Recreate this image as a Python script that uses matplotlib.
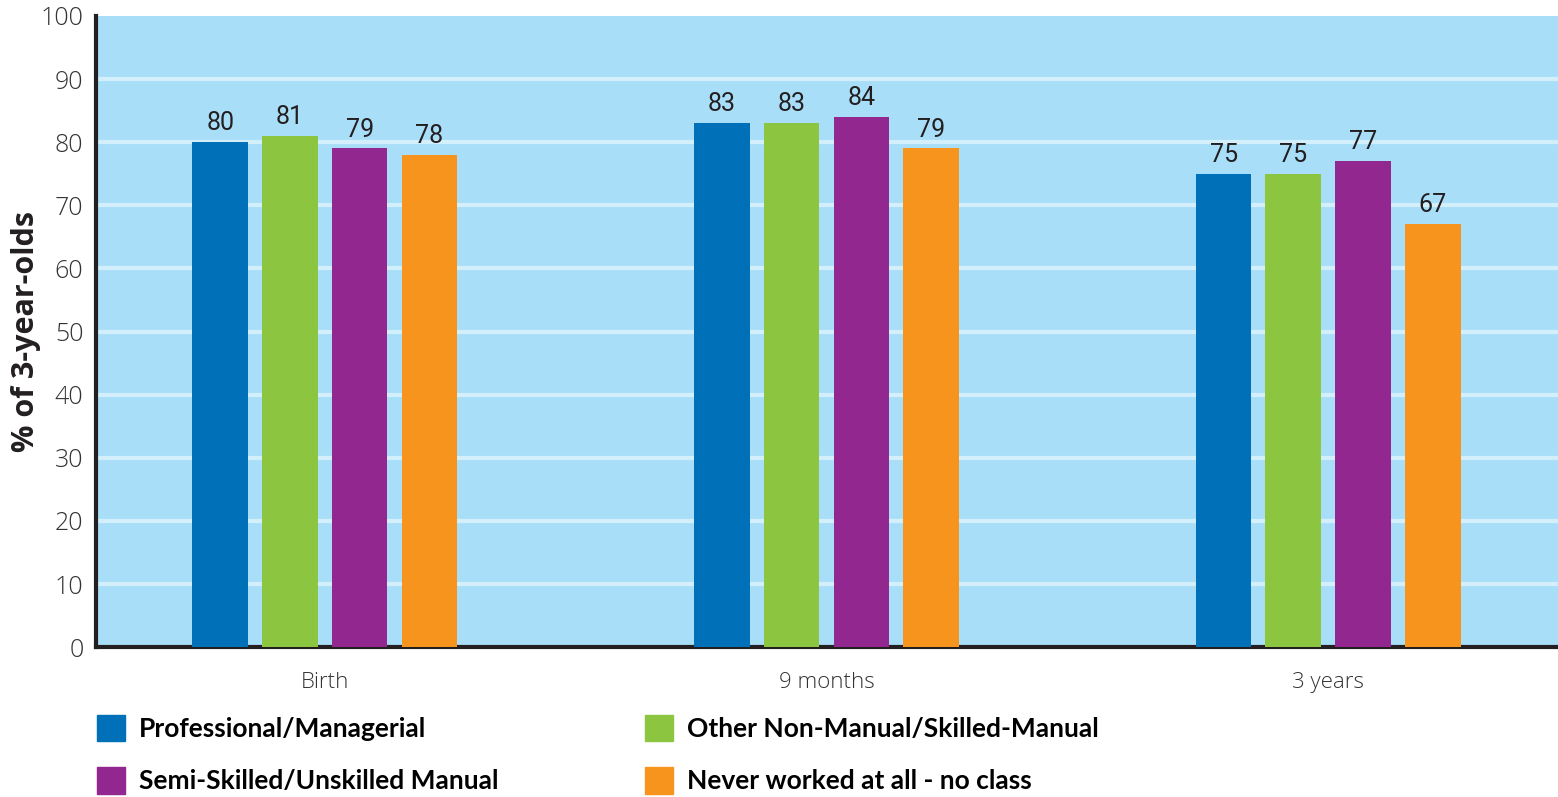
import numpy as np
import matplotlib.pyplot as plt
from matplotlib.patches import Patch

stages = ["Birth", "9 months", "3 years"]
groups = ["Professional/Managerial", "Other Non-Manual/Skilled-Manual",
          "Semi-Skilled/Unskilled Manual", "Never worked at all - no class"]
professional = [80, 83, 75]
other_non_manual = [81, 83, 75]
semi_skilled = [79, 84, 77]
never_worked = [78, 79, 67]
colours = ["#0070b9", "#8cc540", "#92278f", "#f7941e"]

series = [professional, other_non_manual, semi_skilled, never_worked]

fig = plt.figure(figsize=(15.58, 7.97), dpi=100)
ax = fig.add_axes([0.0616, 0.188, 0.9384, 0.792])
ax.set_facecolor("#a9def8")

x = np.arange(len(stages))
width = 0.111
step = 0.139

for i, (vals, col) in enumerate(zip(series, colours)):
    pos = x + (i - 1.5) * step
    bars = ax.bar(pos, vals, width, color=col, zorder=3)
    for b, v in zip(bars, vals):
        ax.annotate(str(v), (b.get_x() + b.get_width() / 2, v),
                    xytext=(0, 5), textcoords="offset points",
                    ha="center", va="bottom", fontsize=18,
                    family="Roboto", color="#231f20", zorder=4)

ax.set_xlim(-0.456, 2.458)
ax.set_ylim(0, 100)
ax.set_yticks(range(0, 101, 10))
ax.set_xticks(x)
ax.set_xticklabels(stages)
for y in range(10, 100, 10):
    ax.axhline(y, color="#d4effc", lw=3, zorder=1)

ax.tick_params(axis="y", length=0, pad=9, labelsize=18, labelcolor="#333333")
ax.tick_params(axis="x", length=0, pad=18, labelsize=16, labelcolor="#333333")
for lab in ax.get_yticklabels() + ax.get_xticklabels():
    lab.set_family("Open Sans")
    lab.set_fontweight("light")

for s in ["top", "right"]:
    ax.spines[s].set_visible(False)
for s in ["left", "bottom"]:
    ax.spines[s].set_linewidth(3)
    ax.spines[s].set_color("#231f20")

ax.set_ylabel("% of 3-year-olds", fontsize=22, fontweight="bold",
              family="Open Sans", color="#231f20", va="center")
ax.yaxis.set_label_coords(-0.048, 0.5)

# legend: two columns, filled top-down
handles = [Patch(color=c) for c in colours]
order = [0, 2, 1, 3]
fig.legend([handles[i] for i in order], [groups[i] for i in order],
           ncol=2, loc="upper left", bbox_to_anchor=(0.047, 0.133),
           frameon=False, handlelength=1.05, handleheight=1.15,
           handletextpad=0.55, columnspacing=5.55, labelspacing=1.0,
           prop={"family": "Lato", "weight": "bold", "size": 19})

fig.savefig("out.png", dpi=100)
